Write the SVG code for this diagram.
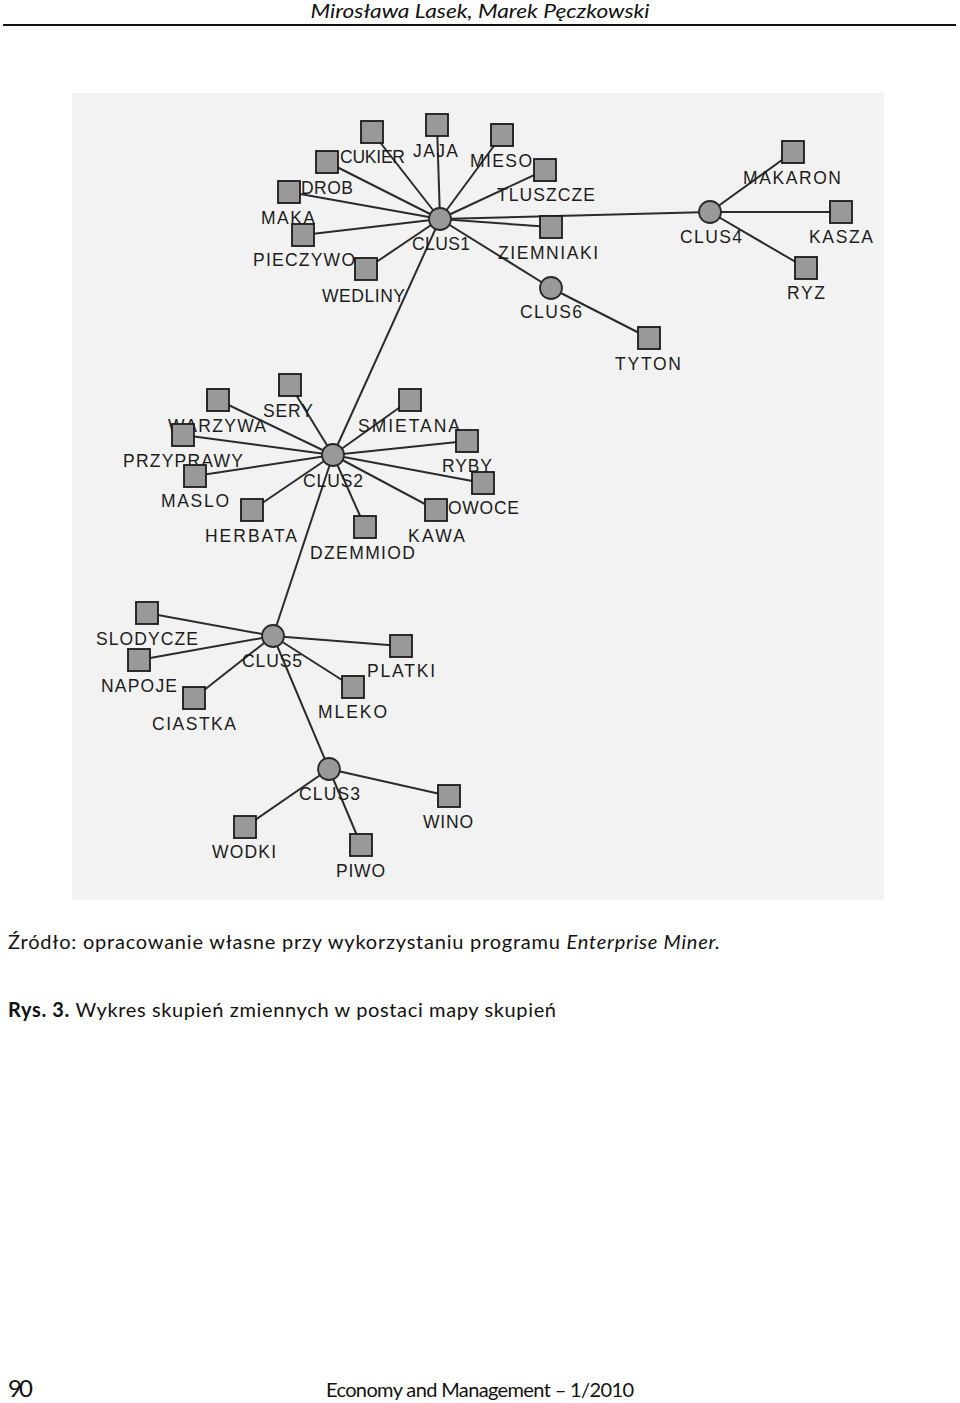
<svg xmlns="http://www.w3.org/2000/svg" width="960" height="1403" viewBox="0 0 960 1403">
<style>
.e{stroke:#2b2b2b;stroke-width:2;fill:none}
.sq{fill:#999;stroke:#1a1a1a;stroke-width:1.8}
.cl{fill:#999;stroke:#2a2a2a;stroke-width:1.8}
.lb{font-family:"Liberation Sans",Arial,sans-serif;font-size:17.5px;fill:#1c1c1c}
.pg{font-family:Lato,"Liberation Sans",sans-serif;fill:#111}
</style>
<rect x="0" y="0" width="960" height="1403" fill="#fff"/>
<g id="header">
<text class="pg" x="480" y="18" font-size="19.5" font-style="italic" text-anchor="middle" textLength="339" lengthAdjust="spacingAndGlyphs">Mirosława Lasek, Marek Pęczkowski</text>
<line x1="3" y1="25" x2="956" y2="25" stroke="#111" stroke-width="2"/>
</g>
<rect id="panel" x="72" y="93" width="812" height="807" fill="#f2f2f2"/>
<g id="connectors">
<line class="e" x1="440" y1="219" x2="372" y2="132"/>
<line class="e" x1="440" y1="219" x2="437" y2="125"/>
<line class="e" x1="440" y1="219" x2="502" y2="135"/>
<line class="e" x1="440" y1="219" x2="545" y2="170"/>
<line class="e" x1="440" y1="219" x2="327" y2="162"/>
<line class="e" x1="440" y1="219" x2="289" y2="192"/>
<line class="e" x1="440" y1="219" x2="303" y2="235"/>
<line class="e" x1="440" y1="219" x2="366" y2="269"/>
<line class="e" x1="440" y1="219" x2="551" y2="227"/>
<line class="e" x1="440" y1="219" x2="551" y2="288"/>
<line class="e" x1="440" y1="219" x2="710" y2="212"/>
<line class="e" x1="440" y1="219" x2="333" y2="455"/>
<line class="e" x1="551" y1="288" x2="649" y2="338"/>
<line class="e" x1="710" y1="212" x2="793" y2="152"/>
<line class="e" x1="710" y1="212" x2="841" y2="212"/>
<line class="e" x1="710" y1="212" x2="806" y2="268"/>
<line class="e" x1="333" y1="455" x2="290" y2="385"/>
<line class="e" x1="333" y1="455" x2="218" y2="400"/>
<line class="e" x1="333" y1="455" x2="410" y2="400"/>
<line class="e" x1="333" y1="455" x2="183" y2="435"/>
<line class="e" x1="333" y1="455" x2="467" y2="441"/>
<line class="e" x1="333" y1="455" x2="195" y2="476"/>
<line class="e" x1="333" y1="455" x2="483" y2="483"/>
<line class="e" x1="333" y1="455" x2="252" y2="510"/>
<line class="e" x1="333" y1="455" x2="436" y2="510"/>
<line class="e" x1="333" y1="455" x2="365" y2="527"/>
<line class="e" x1="333" y1="455" x2="273" y2="636"/>
<line class="e" x1="273" y1="636" x2="147" y2="613"/>
<line class="e" x1="273" y1="636" x2="139" y2="660"/>
<line class="e" x1="273" y1="636" x2="194" y2="698"/>
<line class="e" x1="273" y1="636" x2="401" y2="646"/>
<line class="e" x1="273" y1="636" x2="353" y2="687"/>
<line class="e" x1="273" y1="636" x2="329" y2="769"/>
<line class="e" x1="329" y1="769" x2="449" y2="796"/>
<line class="e" x1="329" y1="769" x2="245" y2="827"/>
<line class="e" x1="329" y1="769" x2="361" y2="845"/>
</g>
<g id="n-clus1"><circle class="cl" cx="440" cy="219" r="11"/><text class="lb" x="412" y="250" textLength="58">CLUS1</text></g>
<g id="n-cukier"><rect class="sq" x="361" y="121" width="22" height="22"/><text class="lb" x="340" y="163" textLength="65">CUKIER</text></g>
<g id="n-jaja"><rect class="sq" x="426" y="114" width="22" height="22"/><text class="lb" x="413" y="157" textLength="45">JAJA</text></g>
<g id="n-mieso"><rect class="sq" x="491" y="124" width="22" height="22"/><text class="lb" x="470" y="167" textLength="62">MIESO</text></g>
<g id="n-tluszcze"><rect class="sq" x="534" y="159" width="22" height="22"/><text class="lb" x="497" y="201" textLength="98">TLUSZCZE</text></g>
<g id="n-drob"><rect class="sq" x="316" y="151" width="22" height="22"/><text class="lb" x="301" y="194" textLength="52">DROB</text></g>
<g id="n-maka"><rect class="sq" x="278" y="181" width="22" height="22"/><text class="lb" x="261" y="224" textLength="54">MAKA</text></g>
<g id="n-pieczywo"><rect class="sq" x="292" y="224" width="22" height="22"/><text class="lb" x="253" y="266" textLength="102">PIECZYWO</text></g>
<g id="n-wedliny"><rect class="sq" x="355" y="258" width="22" height="22"/><text class="lb" x="322" y="302" textLength="83">WEDLINY</text></g>
<g id="n-ziemniaki"><rect class="sq" x="540" y="216" width="22" height="22"/><text class="lb" x="498" y="259" textLength="100">ZIEMNIAKI</text></g>
<g id="n-clus6"><circle class="cl" cx="551" cy="288" r="11"/><text class="lb" x="520" y="318" textLength="62">CLUS6</text></g>
<g id="n-tyton"><rect class="sq" x="638" y="327" width="22" height="22"/><text class="lb" x="615" y="370" textLength="66">TYTON</text></g>
<g id="n-clus4"><circle class="cl" cx="710" cy="212" r="11"/><text class="lb" x="680" y="243" textLength="62">CLUS4</text></g>
<g id="n-makaron"><rect class="sq" x="782" y="141" width="22" height="22"/><text class="lb" x="743" y="184" textLength="98">MAKARON</text></g>
<g id="n-kasza"><rect class="sq" x="830" y="201" width="22" height="22"/><text class="lb" x="809" y="243" textLength="64">KASZA</text></g>
<g id="n-ryz"><rect class="sq" x="795" y="257" width="22" height="22"/><text class="lb" x="787" y="299" textLength="38">RYZ</text></g>
<g id="n-clus2"><circle class="cl" cx="333" cy="455" r="11"/><text class="lb" x="303" y="487" textLength="60">CLUS2</text></g>
<g id="n-sery"><rect class="sq" x="279" y="374" width="22" height="22"/><text class="lb" x="263" y="417" textLength="50">SERY</text></g>
<g id="n-warzywa"><rect class="sq" x="207" y="389" width="22" height="22"/><text class="lb" x="168" y="432" textLength="98">WARZYWA</text></g>
<g id="n-smietana"><rect class="sq" x="399" y="389" width="22" height="22"/><text class="lb" x="358" y="432" textLength="102">SMIETANA</text></g>
<g id="n-przyprawy"><rect class="sq" x="172" y="424" width="22" height="22"/><text class="lb" x="123" y="467" textLength="120">PRZYPRAWY</text></g>
<g id="n-ryby"><rect class="sq" x="456" y="430" width="22" height="22"/><text class="lb" x="442" y="472" textLength="50">RYBY</text></g>
<g id="n-maslo"><rect class="sq" x="184" y="465" width="22" height="22"/><text class="lb" x="161" y="507" textLength="68">MASLO</text></g>
<g id="n-owoce"><rect class="sq" x="472" y="472" width="22" height="22"/><text class="lb" x="448" y="514" textLength="71">OWOCE</text></g>
<g id="n-herbata"><rect class="sq" x="241" y="499" width="22" height="22"/><text class="lb" x="205" y="542" textLength="92">HERBATA</text></g>
<g id="n-kawa"><rect class="sq" x="425" y="499" width="22" height="22"/><text class="lb" x="408" y="542" textLength="57">KAWA</text></g>
<g id="n-dzemmiod"><rect class="sq" x="354" y="516" width="22" height="22"/><text class="lb" x="310" y="559" textLength="105">DZEMMIOD</text></g>
<g id="n-clus5"><circle class="cl" cx="273" cy="636" r="11"/><text class="lb" x="242" y="667" textLength="60">CLUS5</text></g>
<g id="n-slodycze"><rect class="sq" x="136" y="602" width="22" height="22"/><text class="lb" x="96" y="645" textLength="102">SLODYCZE</text></g>
<g id="n-napoje"><rect class="sq" x="128" y="649" width="22" height="22"/><text class="lb" x="101" y="692" textLength="76">NAPOJE</text></g>
<g id="n-ciastka"><rect class="sq" x="183" y="687" width="22" height="22"/><text class="lb" x="152" y="730" textLength="84">CIASTKA</text></g>
<g id="n-platki"><rect class="sq" x="390" y="635" width="22" height="22"/><text class="lb" x="367" y="677" textLength="68">PLATKI</text></g>
<g id="n-mleko"><rect class="sq" x="342" y="676" width="22" height="22"/><text class="lb" x="318" y="718" textLength="69">MLEKO</text></g>
<g id="n-clus3"><circle class="cl" cx="329" cy="769" r="11"/><text class="lb" x="299" y="800" textLength="61">CLUS3</text></g>
<g id="n-wino"><rect class="sq" x="438" y="785" width="22" height="22"/><text class="lb" x="423" y="828" textLength="50">WINO</text></g>
<g id="n-wodki"><rect class="sq" x="234" y="816" width="22" height="22"/><text class="lb" x="212" y="858" textLength="64">WODKI</text></g>
<g id="n-piwo"><rect class="sq" x="350" y="834" width="22" height="22"/><text class="lb" x="336" y="877" textLength="49">PIWO</text></g>
<g id="captions">
<text class="pg" x="8" y="949" font-size="20" textLength="712">Źródło: opracowanie własne przy wykorzystaniu programu <tspan font-style="italic">Enterprise Miner.</tspan></text>
<text class="pg" x="8" y="1017" font-size="20" textLength="548"><tspan font-weight="bold">Rys. 3.</tspan> Wykres skupień zmiennych w postaci mapy skupień</text>
</g>
<g id="footer">
<text class="pg" x="8" y="1397" font-size="24" textLength="25">90</text>
<text class="pg" x="326" y="1397" font-size="20" textLength="308">Economy and Management – 1/2010</text>
</g>
</svg>
